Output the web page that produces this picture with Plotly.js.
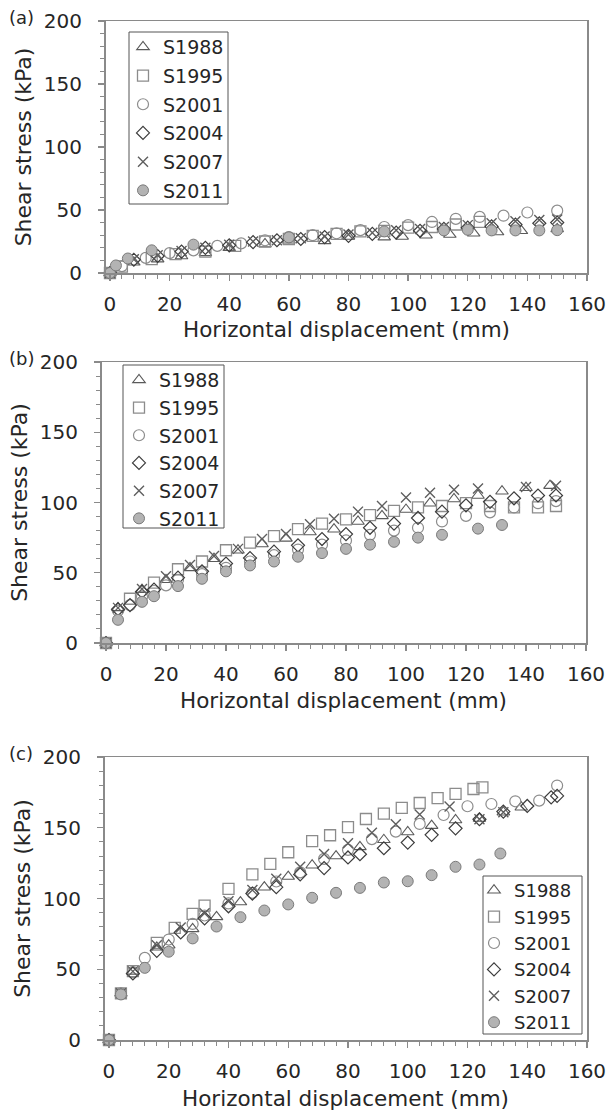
<!DOCTYPE html>
<html>
<head>
<meta charset="utf-8">
<script src="https://cdn.plot.ly/plotly-3.0.1.min.js"></script>
<style>
html,body{margin:0;padding:0;background:#fff;}
#chart{width:607px;height:1115px;}
</style>
</head>
<body>
<div id="chart"></div>
<script>
// ---------- DATA ----------
const seriesNames = ['S1988', 'S1995', 'S2001', 'S2004', 'S2007', 'S2011'];
const panelLabels = ['(a)', '(b)', '(c)'];
const xTitle = 'Horizontal displacement (mm)';
const yTitle = 'Shear stress (kPa)';

// Panel (a)
const aS1988x = [0, 8, 16, 24, 32, 40, 52, 60, 72, 80, 92, 98, 106, 114, 122, 130, 138, 150];
const aS1988y = [0, 8.5, 11, 13.5, 16, 20, 23, 26, 25.5, 29, 28.5, 29, 30, 30.5, 31.5, 32.5, 33.5, 35];
const aS1995x = [0, 4, 14, 22, 32, 42, 52, 60, 68, 76, 84, 92, 100, 108, 116, 124];
const aS1995y = [0, 5, 11, 15, 17, 21.5, 25, 27, 29.5, 31, 33, 33.5, 36, 36.5, 38.5, 40.5];
const aS2001x = [0, 4, 12, 20, 28, 36, 44, 52, 60, 68, 76, 84, 92, 100, 108, 116, 124, 132, 140, 150];
const aS2001y = [0, 5.5, 12, 15.8, 18, 21.5, 23.5, 26, 28.5, 30, 31.5, 34, 36.5, 38, 40.5, 43, 44.5, 45.5, 48, 49.5];
const aS2004x = [0, 8, 16, 24, 32, 40, 48, 56, 64, 72, 80, 88, 96, 104, 112, 120, 128, 136, 144, 150];
const aS2004y = [0, 10.5, 13.5, 17, 20, 22, 24.5, 26, 27, 28.5, 29.5, 31, 32, 33.5, 35, 36, 37, 38.5, 39.5, 40];
const aS2007x = [0, 8, 16, 24, 32, 40, 48, 56, 64, 72, 80, 88, 96, 104, 112, 120, 128, 136, 144, 150];
const aS2007y = [0, 11, 14, 17.5, 20, 22.5, 25, 26, 27.5, 29, 30.5, 32, 34, 35, 36.5, 38, 39.5, 41, 42, 42.5];
const aS2011x = [0, 2, 6, 14, 28, 60, 92, 112, 120, 128, 136, 144, 150];
const aS2011y = [0, 6, 11.5, 18, 22.5, 28.3, 33, 33.8, 34.3, 33.8, 33.8, 33.8, 34];

// Panel (b)
const bS1988x = [0, 4, 12, 20, 28, 36, 44, 52, 60, 68, 76, 84, 92, 100, 108, 116, 124, 132, 140, 148];
const bS1988y = [0, 25, 38, 45, 53.5, 60, 66, 70.5, 74.5, 79, 81, 86.5, 90.5, 95, 99.5, 102.5, 105, 108, 110.5, 112];
const bS1995x = [0, 8, 16, 24, 32, 40, 48, 56, 64, 72, 80, 88, 96, 104, 112, 120, 128, 136, 144, 150];
const bS1995y = [0, 31.5, 43, 52.5, 58, 66, 71.5, 76, 81, 85, 88, 91, 94, 96.5, 97.5, 99.5, 97.5, 96.5, 96.5, 97.5];
const bS2001x = [0, 4, 8, 12, 16, 20, 24, 32, 40, 48, 56, 64, 72, 80, 88, 96, 104, 112, 120, 128, 136, 144, 150];
const bS2001y = [0, 23, 27, 33, 37, 41, 45, 49, 53.5, 58, 62.5, 66.5, 70, 73, 77, 80, 82, 86.5, 90.5, 93, 96.5, 99.5, 101];
const bS2004x = [0, 4, 8, 12, 16, 24, 32, 40, 48, 56, 64, 72, 80, 88, 96, 104, 112, 120, 128, 136, 144, 150];
const bS2004y = [0, 24, 27, 36.5, 38, 46.5, 51, 56.5, 60.5, 65, 69.5, 74, 77.5, 82, 85, 89, 93.5, 98, 100.5, 103, 105, 105];
const bS2007x = [0, 4, 12, 20, 28, 36, 44, 52, 60, 68, 76, 84, 92, 100, 108, 116, 124, 140, 150];
const bS2007y = [0, 25, 38.5, 47.5, 55.5, 62, 67, 74, 77.5, 84.5, 88.5, 93.5, 97.5, 103.5, 107, 109, 110, 111, 112];
const bS2011x = [0, 4, 12, 16, 24, 32, 40, 48, 56, 64, 72, 80, 88, 96, 104, 112, 124, 132];
const bS2011y = [0, 16.5, 29.3, 33.3, 40.5, 45.7, 51, 55.2, 58, 61.4, 64, 67, 70, 72, 75, 77, 81.4, 84];

// Panel (c)
const cS1988x = [0, 4, 8, 16, 20, 28, 36, 44, 52, 60, 68, 76, 84, 92, 100, 108, 116, 124, 132, 138];
const cS1988y = [0, 33, 48.5, 65.5, 67, 78.5, 87, 97.5, 108, 115.5, 123.5, 130, 136.5, 141.5, 147, 151.5, 155.5, 156.5, 161, 164.5];
const cS1995x = [0, 4, 8, 16, 22, 28, 32, 40, 48, 54, 60, 68, 74, 80, 86, 92, 98, 104, 110, 116, 122, 125];
const cS1995y = [0, 33, 48.7, 68.7, 79.3, 89.2, 95, 106.8, 117, 124.5, 132.7, 140.5, 144.7, 150.4, 156.2, 160, 164, 167.5, 171, 174, 177.4, 178.6];
const cS2001x = [0, 4, 8, 12, 20, 28, 32, 40, 48, 56, 64, 72, 80, 88, 96, 104, 112, 120, 128, 136, 144, 150];
const cS2001y = [0, 33, 48, 58, 71, 82, 88, 96.5, 104, 112, 118.5, 128, 134.4, 142, 147.3, 152.7, 159, 165.2, 166.8, 168.7, 169.2, 179.8];
const cS2004x = [0, 8, 16, 24, 32, 40, 48, 56, 64, 72, 80, 84, 92, 100, 108, 116, 124, 132, 140, 148, 150];
const cS2004y = [0, 47, 63, 76, 86, 94.5, 103.5, 108, 117, 121.5, 129, 131.3, 135.5, 139.5, 145, 149.6, 156, 161.4, 165.4, 171.5, 172.5];
const cS2007x = [0, 4, 8, 16, 24, 32, 40, 48, 56, 64, 72, 80, 88, 96, 104, 114, 124, 132];
const cS2007y = [0, 33, 48.5, 67, 79.5, 89.5, 98, 106, 114, 122.5, 131.5, 139, 146.5, 152.5, 159.3, 165, 156, 161];
const cS2011x = [0, 4, 12, 20, 28, 36, 44, 52, 60, 68, 76, 84, 92, 100, 108, 116, 124, 131];
const cS2011y = [0, 32.2, 51, 62.4, 71.8, 80.2, 86.8, 91.5, 95.8, 100.5, 104, 107.5, 111.3, 112.2, 116.5, 122.4, 124, 131.8];

// ---------- STYLE ----------
const W = 607, H = 1115;
const FONT = 'DejaVu Sans, Verdana, sans-serif';
const TXT = '#262626';
const AX = '#8a8a8a';
const px = v => v / W;
const py = v => 1 - v / H;

const markerStyles = {
  S1988: {symbol: 'triangle-up-open', size: 11, color: '#5a5a5a', line: {width: 1.1, color: '#5a5a5a'}},
  S1995: {symbol: 'square-open', size: 11, color: '#8c8c8c', line: {width: 1.3, color: '#8c8c8c'}},
  S2001: {symbol: 'circle-open', size: 11, color: '#8c8c8c', line: {width: 1.2, color: '#8c8c8c'}},
  S2004: {symbol: 'diamond-open', size: 10, color: '#3c3c3c', line: {width: 1.2, color: '#3c3c3c'}},
  S2007: {symbol: 'x-thin-open', size: 10, color: '#5e5e5e', line: {width: 1.4, color: '#5e5e5e'}},
  S2011: {symbol: 'circle', size: 11, color: '#b3b3b3', line: {width: 1, color: '#7a7a7a'}}
};

// Layout geometry (pixels): plot frame [left, right, top, bottom], legend frame [left, right, top, bottom]
const panels = [
  {key: 'a', xs: [aS1988x, aS1995x, aS2001x, aS2004x, aS2007x, aS2011x], ys: [aS1988y, aS1995y, aS2001y, aS2004y, aS2007y, aS2011y],
   box: [105.5, 587, 21, 273], lbox: [129, 228, 32, 204], lpos: [123, 28], lfont: 19, lgap: 1, titleY: 330},
  {key: 'b', xs: [bS1988x, bS1995x, bS2001x, bS2004x, bS2007x, bS2011x], ys: [bS1988y, bS1995y, bS2001y, bS2004y, bS2007y, bS2011y],
   box: [101.5, 586, 362, 643], lbox: [123, 224, 365, 528], lpos: [119, 361], lfont: 19, lgap: 0, titleY: 700},
  {key: 'c', xs: [cS1988x, cS1995x, cS2001x, cS2004x, cS2007x, cS2011x], ys: [cS1988y, cS1995y, cS2001y, cS2004y, cS2007y, cS2011y],
   box: [104.5, 587, 757, 1040], lbox: [483, 582, 876, 1034], lpos: [474, 872], lfont: 18, lgap: 0, titleY: 1098}
];

const traces = [];
const layout = {
  width: W, height: H,
  margin: {l: 0, r: 0, t: 0, b: 0},
  paper_bgcolor: '#fff', plot_bgcolor: '#fff',
  font: {family: FONT, color: TXT, size: 20},
  showlegend: true,
  annotations: [],
  shapes: []
};

panels.forEach((p, i) => {
  const n = i === 0 ? '' : String(i + 1);
  const xa = 'x' + n, ya = 'y' + n;
  const lg = 'legend' + n;
  p.xs.forEach((xv, k) => {
    const name = seriesNames[k];
    traces.push({
      type: 'scatter', mode: 'markers', name: name,
      x: xv, y: p.ys[k], xaxis: xa, yaxis: ya,
      legend: lg, legendgroup: p.key + name,
      cliponaxis: false,
      marker: markerStyles[name]
    });
  });
  const [l, r, t, b] = p.box;
  layout['xaxis' + n] = {
    domain: [px(l), px(r)], anchor: ya,
    range: [-1.5, 160], tick0: 0, dtick: 20,
    ticks: 'outside', ticklen: 6, tickwidth: 1.3, tickcolor: AX,
    minor: {dtick: 4, ticks: 'outside', ticklen: 4, tickwidth: 1, tickcolor: AX},
    showline: true, linecolor: AX, linewidth: 1.5, mirror: true,
    showgrid: false, zeroline: false, automargin: false,
    ticklabelstandoff: 6, ticklabeloverflow: 'allow',
    tickfont: {family: FONT, size: 20, color: TXT}
  };
  layout['yaxis' + n] = {
    domain: [py(b), py(t)], anchor: xa,
    range: [0, 200], tick0: 0, dtick: 50,
    ticks: 'outside', ticklen: 6, tickwidth: 1.3, tickcolor: AX,
    minor: {dtick: 10, ticks: 'outside', ticklen: 4, tickwidth: 1, tickcolor: AX},
    showline: true, linecolor: AX, linewidth: 1.5, mirror: true,
    showgrid: false, zeroline: false, automargin: false,
    ticklabelstandoff: 12, ticklabeloverflow: 'allow',
    tickfont: {family: FONT, size: 20, color: TXT},
    title: {text: yTitle, font: {family: FONT, size: 22, color: TXT}, standoff: 6}
  };
  layout[lg] = {
    x: px(p.lpos[0]), y: py(p.lpos[1]), xanchor: 'left', yanchor: 'top',
    xref: 'paper', yref: 'paper',
    bgcolor: 'rgba(0,0,0,0)', borderwidth: 0,
    font: {family: FONT, size: p.lfont, color: TXT},
    traceorder: 'grouped', tracegroupgap: p.lgap, itemwidth: 30
  };
  const [ll, lr, lt, lb] = p.lbox;
  layout.shapes.push({
    type: 'rect', xref: 'paper', yref: 'paper', layer: 'above',
    x0: px(ll), x1: px(lr), y0: py(lb), y1: py(lt),
    line: {color: '#555', width: 1}, fillcolor: 'rgba(0,0,0,0)'
  });
  layout.annotations.push({
    text: panelLabels[i], xref: 'paper', yref: 'paper',
    x: px(7), y: py(t - 4), xanchor: 'left', yanchor: 'middle',
    showarrow: false, font: {family: FONT, size: 18, color: TXT}
  });
  layout.annotations.push({
    text: xTitle, xref: 'paper', yref: 'paper',
    x: (px(l) + px(r)) / 2, y: py(p.titleY), xanchor: 'center', yanchor: 'middle',
    showarrow: false, font: {family: FONT, size: 21.5, color: TXT}
  });
});

Plotly.newPlot('chart', traces, layout, {displayModeBar: false, staticPlot: true});
</script>
</body>
</html>
